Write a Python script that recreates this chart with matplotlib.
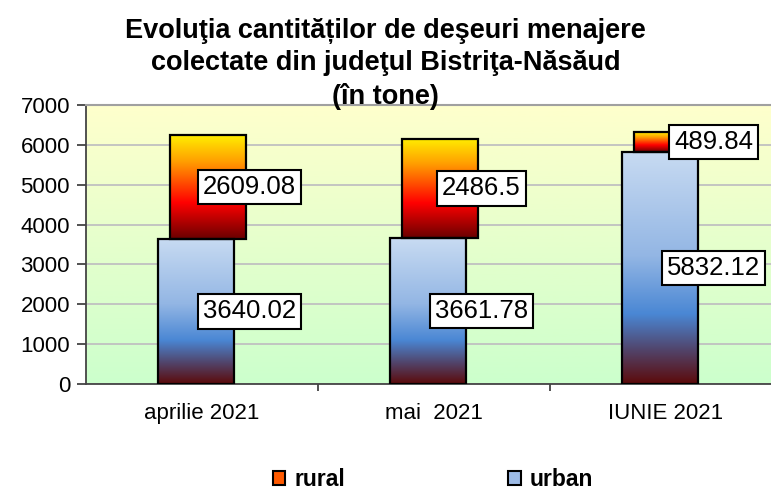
import matplotlib.pyplot as plt
import numpy as np
from matplotlib.colors import LinearSegmentedColormap
from matplotlib.patches import Patch

plt.rcParams["font.family"] = ["Liberation Sans", "DejaVu Sans"]

categories = ["aprilie 2021", "mai  2021", "IUNIE 2021"]
urban = [3640.02, 3661.78, 5832.12]
rural = [2609.08, 2486.5, 489.84]
urban_labels = ["3640.02", "3661.78", "5832.12"]
rural_labels = ["2609.08", "2486.5", "489.84"]

urban_cmap = LinearSegmentedColormap.from_list(
    "urban", [(0.0, "#c8dbf2"), (0.45, "#93b6e4"), (0.70, "#4a87d4"),
              (0.85, "#51466e"), (1.0, "#5c0a0a")])
rural_cmap = LinearSegmentedColormap.from_list(
    "rural", [(0.0, "#ffee00"), (0.25, "#ffa000"), (0.65, "#ff0000"),
              (1.0, "#6a0000")])
bg_cmap = LinearSegmentedColormap.from_list("bg", ["#ffffcc", "#ccffcc"])

fig = plt.figure(figsize=(7.71, 4.92), dpi=100)
ax = fig.add_axes([86 / 771, 1 - 384 / 492, 696 / 771, 279 / 492])

x = np.arange(len(categories))
width = 0.327
shift = 0.027

# background gradient
grad = np.linspace(0, 1, 256).reshape(-1, 1)
ax.imshow(grad, cmap=bg_cmap, aspect="auto", extent=(-0.5, 2.5, 0, 7000),
          origin="upper", zorder=0)


def gradient_bars(xs, heights, bottoms, cmap):
    bars = ax.bar(xs, heights, width, bottom=bottoms, facecolor="none",
                  edgecolor="black", linewidth=1.6, zorder=3)
    for b in bars:
        x0, y0 = b.get_x(), b.get_y()
        im = ax.imshow(grad, cmap=cmap, aspect="auto", origin="upper",
                       extent=(x0, x0 + b.get_width(), y0, y0 + b.get_height()),
                       zorder=2)
        im.set_clip_path(b)
    return bars


gradient_bars(x + shift, rural, urban, rural_cmap)
gradient_bars(x - shift, urban, [0, 0, 0], urban_cmap)
ax.set_xlim(-0.5, 2.5)
ax.set_ylim(0, 7000)

box = dict(boxstyle="square,pad=0.2", facecolor="white", edgecolor="black",
           linewidth=1.5)
for i in range(len(categories)):
    ax.text(x[i] + 0.205, urban[i] / 2, urban_labels[i], ha="center",
            va="center", fontsize=18.5, bbox=box, zorder=5)
    ax.text(x[i] + 0.205, urban[i] + rural[i] / 2, rural_labels[i],
            ha="center", va="center", fontsize=18.5, bbox=box, zorder=5)

ax.set_yticks(np.arange(0, 7001, 1000))
ax.yaxis.grid(True, color="#c0c0c0", linewidth=1.3)
ax.set_axisbelow(True)
ax.tick_params(axis="y", labelsize=16, length=6.5, width=1.2, color="#333333",
               pad=5)

ax.set_xticks([0.5, 1.5])
ax.set_xticklabels([])
ax.set_xticks(x, minor=True)
ax.set_xticklabels(categories, minor=True, fontsize=16)
ax.tick_params(axis="x", which="major", length=5, width=1.2, color="#333333")
ax.tick_params(axis="x", which="minor", length=0, pad=14)

for side in ["left", "bottom"]:
    ax.spines[side].set_color("#444444")
    ax.spines[side].set_linewidth(1.3)
ax.spines["top"].set_color("#a0a0a0")
ax.spines["top"].set_linewidth(1.5)
ax.spines["right"].set_visible(False)

fig.text(0.5, 1 - 64 / 492,
         "Evoluţia cantităților de deşeuri menajere\n"
         "colectate din judeţul Bistriţa-Năsăud\n(în tone)",
         ha="center", va="center", fontsize=19.5, fontweight="bold",
         linespacing=1.3)

handles = [Patch(facecolor="#ff5a00", edgecolor="black", linewidth=1.5),
           Patch(facecolor="#9dbbe6", edgecolor="black", linewidth=1.5)]
fig.legend(handles, ["rural", "urban"], loc="center",
           bbox_to_anchor=(433 / 771, 1 - 480 / 492), ncol=2, frameon=False,
           prop={"size": 16.5, "weight": "bold"}, handlelength=0.55,
           handleheight=0.55, handletextpad=0.4, columnspacing=7.1,
           borderpad=0.1)

fig.savefig("out.png", dpi=100)
